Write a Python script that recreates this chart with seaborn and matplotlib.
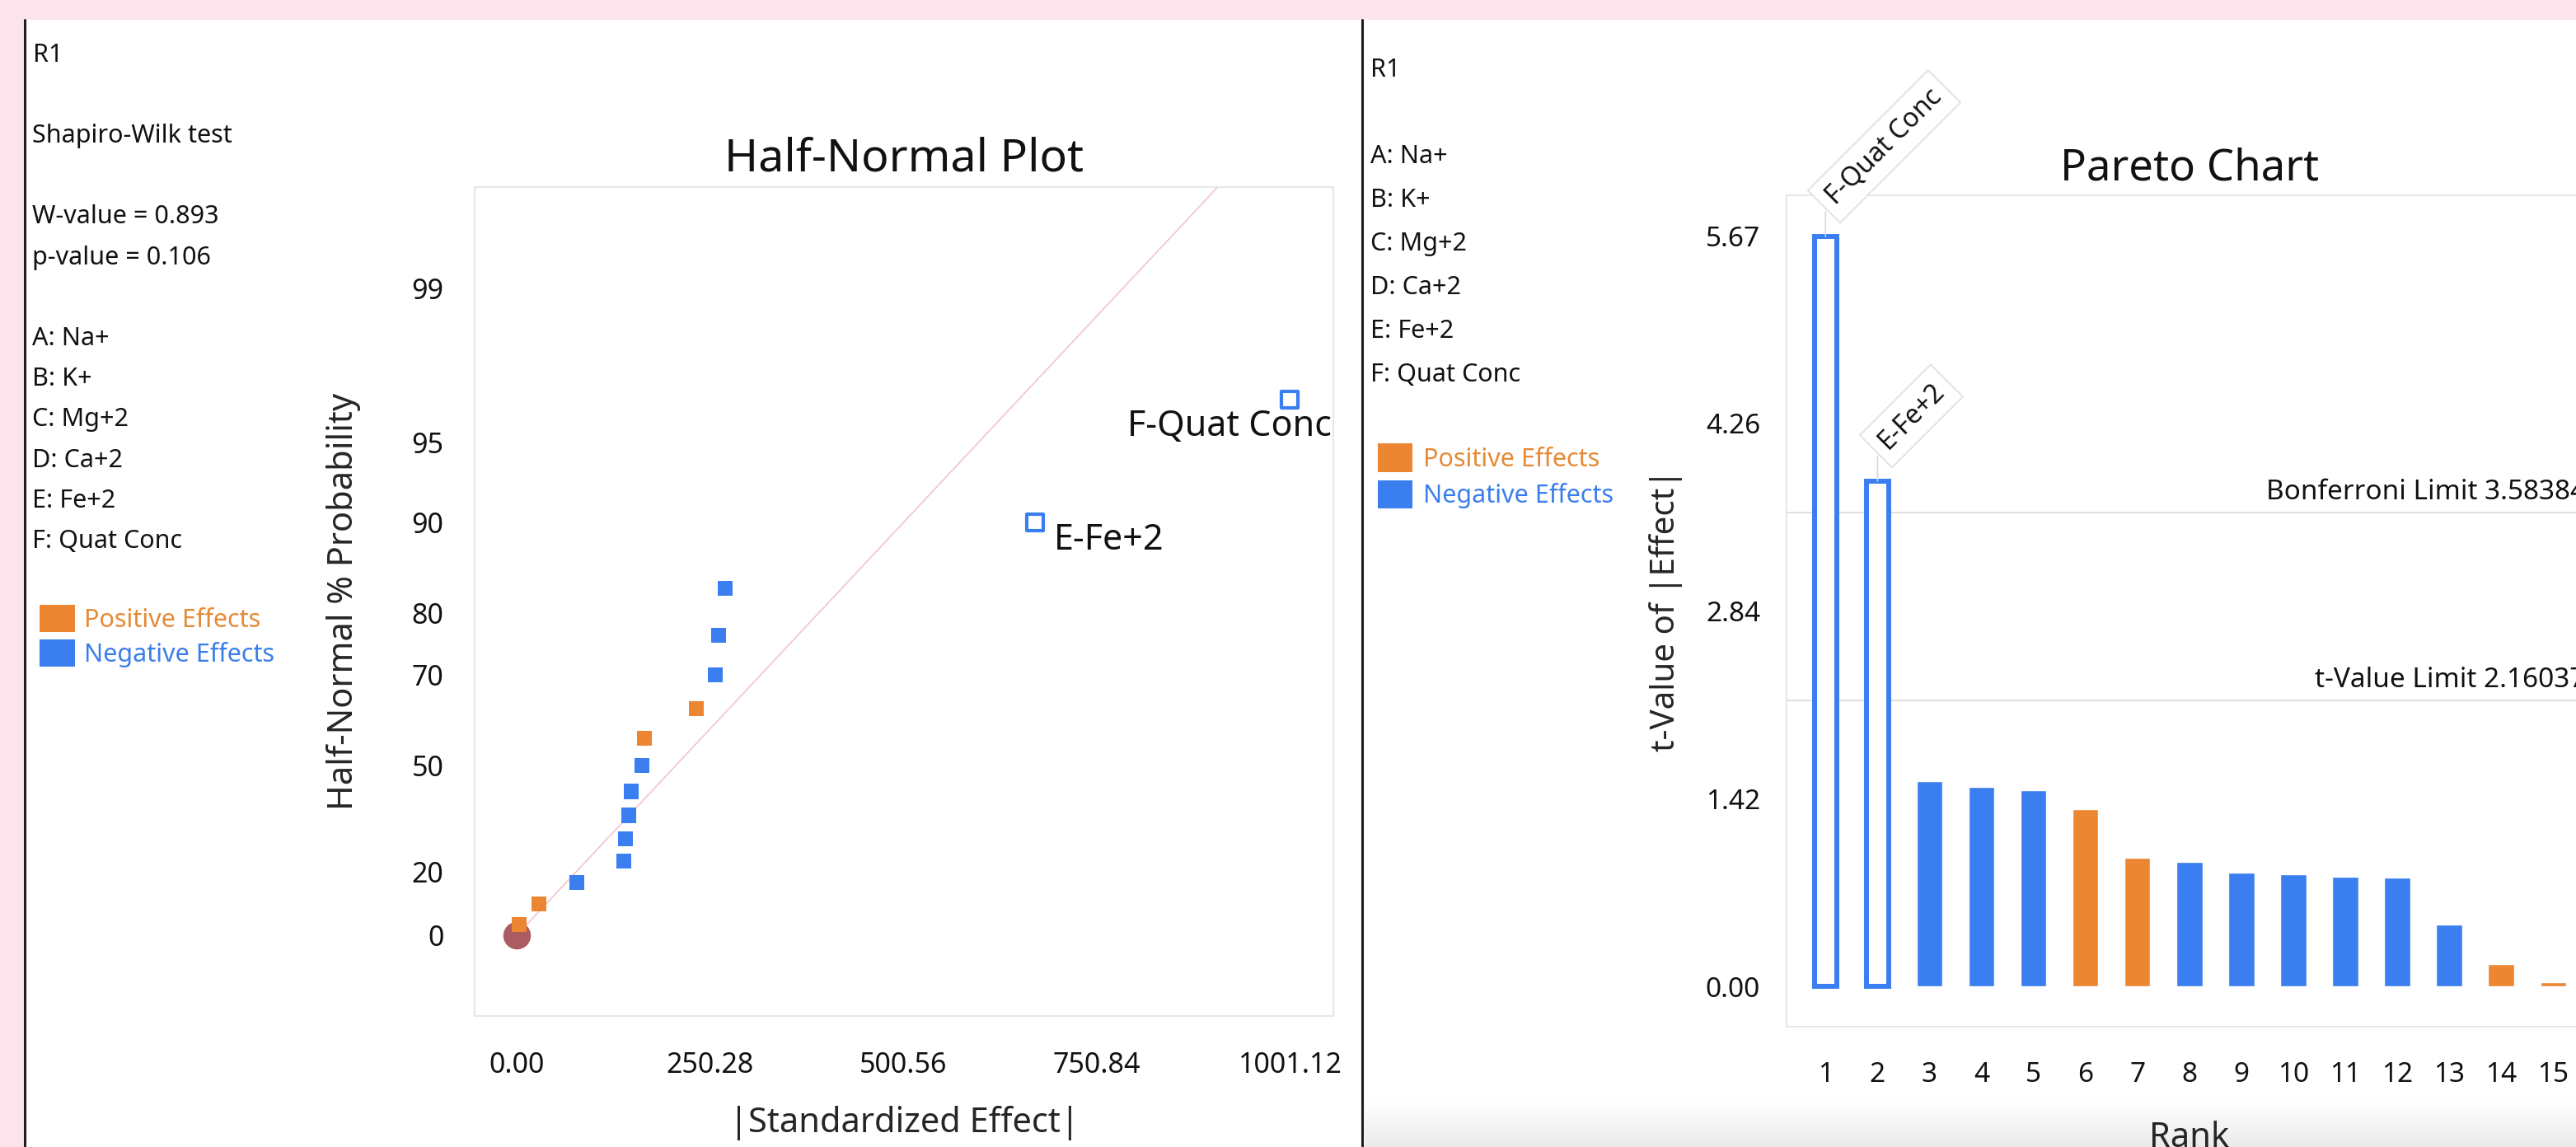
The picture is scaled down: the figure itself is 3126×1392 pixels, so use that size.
import math
from statistics import NormalDist

import numpy as np
import pandas as pd
import seaborn as sns
import matplotlib.pyplot as plt
from matplotlib.patches import Rectangle, Patch
from matplotlib.lines import Line2D
from matplotlib.colors import LinearSegmentedColormap
from matplotlib.ticker import FixedLocator

# ---- values ----
factor_names = ['A: Na+', 'B: K+', 'C: Mg+2', 'D: Ca+2', 'E: Fe+2', 'F: Quat Conc']
w_value = 0.893
p_value = 0.106

# half-normal plot (effects in ascending order)
hn_effect = [3.2, 28.8, 77.7, 138.5, 140.6, 144.8, 148.0, 161.9, 165.0, 232.0, 256.7, 261.0, 269.4, 671.0, 1000.5]
hn_prob = [3.3, 10.0, 16.7, 23.3, 30.0, 36.7, 43.3, 50.0, 56.7, 63.3, 70.0, 76.7, 83.3, 90.0, 96.7]
hn_sign = ['Positive', 'Positive', 'Negative', 'Negative', 'Negative', 'Negative', 'Negative', 'Negative',
           'Positive', 'Positive', 'Negative', 'Negative', 'Negative', 'Negative', 'Negative']
hn_term = ['', '', '', '', '', '', '', '', '', '', '', '', '', 'E-Fe+2', 'F-Quat Conc']
origin_effect = [0.0]
origin_prob = [0.0]
ref_line_effect = [0.0, 907.0]
ref_line_prob = [0.0, 99.71]
hn_xticks = [0.00, 250.28, 500.56, 750.84, 1001.12]
hn_yticks = [0, 20, 50, 70, 80, 90, 95, 99]

# pareto chart
pareto_rank = ['1', '2', '3', '4', '5', '6', '7', '8', '9', '10', '11', '12', '13', '14', '15']
pareto_t = [5.67, 3.82, 1.55, 1.51, 1.48, 1.34, 0.97, 0.94, 0.86, 0.85, 0.83, 0.82, 0.47, 0.17, 0.03]
pareto_sign = ['Negative', 'Negative', 'Negative', 'Negative', 'Negative', 'Positive', 'Positive', 'Negative',
               'Negative', 'Negative', 'Negative', 'Negative', 'Negative', 'Positive', 'Positive']
pareto_term = ['F-Quat Conc', 'E-Fe+2', '', '', '', '', '', '', '', '', '', '', '', '', '']
pareto_yticks = [0.00, 1.42, 2.84, 4.26, 5.67]
bonferroni_limit = 3.58384
t_value_limit = 2.16037

# ---- colours ----
PINK = '#FCE4EC'
ORANGE = '#EC8632'
BLUE = '#3A7EF0'
ORANGE_TXT = '#E58A35'
BLUE_TXT = '#3B7EEB'
CIRCLE = '#A8525A'
REF_LINE = '#F3C8CE'
FRAME = '#E3E3E3'
TICK = '#D8D8D8'
LIMIT = '#E6DDE1'
palette = {'Positive': ORANGE, 'Negative': BLUE}

sns.set_style('white')
plt.rcParams['font.family'] = ['Noto Sans', 'DejaVu Sans']
plt.rcParams['text.color'] = '#111111'
plt.rcParams['xtick.color'] = TICK
plt.rcParams['ytick.color'] = TICK
plt.rcParams['xtick.labelcolor'] = '#111111'
plt.rcParams['ytick.labelcolor'] = '#111111'

W, H = 3126, 1392
fig = plt.figure(figsize=(W / 100, H / 100), dpi=100, facecolor=PINK)


def fx(px):
    return px / W


def fy(py):
    return 1 - py / H


# white screenshot panels with dark left borders
fig.add_artist(Rectangle((fx(30), 0), fx(1653) - fx(30), fy(24), transform=fig.transFigure,
                         fc='white', ec='none', zorder=-10))
fig.add_artist(Rectangle((fx(1653), 0), 1 - fx(1653), fy(24), transform=fig.transFigure,
                         fc='white', ec='none', zorder=-10))
for xp in (30, 1653):
    fig.add_artist(Line2D([fx(xp), fx(xp)], [0, fy(24)], transform=fig.transFigure,
                          color='#1E1E1E', lw=2.2, zorder=-9))

# faint shadow at bottom of the right screenshot
ax_g = fig.add_axes([fx(1656), 0, 1 - fx(1656), (H - 1335) / H], zorder=-5)
ax_g.imshow(np.linspace(0, 1, 60).reshape(-1, 1), aspect='auto', extent=[0, 1, 0, 1],
            cmap=LinearSegmentedColormap.from_list('shade', ['#FFFFFF', '#EBEBEB']))
ax_g.axis('off')

# ---- side texts ----
TXT = 22
fig.text(fx(40), fy(67), 'R1', fontsize=TXT, fontweight='bold', va='center')
fig.text(fx(39), fy(165), 'Shapiro-Wilk test', fontsize=TXT, va='center')
fig.text(fx(39), fy(263), f'W-value = {w_value:.3f}', fontsize=TXT, va='center')
fig.text(fx(39), fy(313), f'p-value = {p_value:.3f}', fontsize=TXT, va='center')
for i, name in enumerate(factor_names):
    fig.text(fx(39), fy(411 + 49.2 * i), name, fontsize=TXT, va='center')
    fig.text(fx(1663), fy(190 + 53 * i), name, fontsize=TXT, va='center')
fig.text(fx(1663), fy(85), 'R1', fontsize=TXT, fontweight='bold', va='center')

legend_handles = [Patch(fc=ORANGE, ec='none'), Patch(fc=BLUE, ec='none')]
legend_labels = ['Positive Effects', 'Negative Effects']
fig.legend(legend_handles, legend_labels, labelcolor=[ORANGE_TXT, BLUE_TXT], loc='upper left',
           bbox_to_anchor=(fx(48), fy(734)), frameon=False, borderpad=0, borderaxespad=0,
           handlelength=1.4, handleheight=1.27, handletextpad=0.38, labelspacing=0.29, fontsize=TXT)
fig.legend(legend_handles, legend_labels, labelcolor=[ORANGE_TXT, BLUE_TXT], loc='upper left',
           bbox_to_anchor=(fx(1672), fy(538)), frameon=False, borderpad=0, borderaxespad=0,
           handlelength=1.37, handleheight=1.37, handletextpad=0.42, labelspacing=0.33, fontsize=TXT)

# ---- half-normal plot ----
ax1 = fig.add_axes([fx(576), fy(1233), (1618 - 576) / W, (1233 - 227) / H])
hn = pd.DataFrame({'effect': hn_effect, 'prob': hn_prob, 'sign': hn_sign, 'term': hn_term})
filled = hn[hn['term'] == '']
named = hn[hn['term'] != '']

sns.lineplot(x=ref_line_effect, y=ref_line_prob, color=REF_LINE, lw=1.3, ax=ax1, zorder=1)
sns.scatterplot(x=origin_effect, y=origin_prob, s=580, color=CIRCLE, alpha=0.95, linewidth=0,
                ax=ax1, zorder=2)
sns.scatterplot(data=filled, x='effect', y='prob', hue='sign', palette=palette, marker='s', s=170,
                linewidth=0, legend=False, ax=ax1, zorder=3)
sns.scatterplot(data=named, x='effect', y='prob', marker='s', s=225, color='white', edgecolor=BLUE,
                linewidth=3, ax=ax1, zorder=3)

nd = NormalDist()


def pct_to_z(p):
    p = np.clip(np.asarray(p, dtype=float), -99.9999, 99.9999)
    return np.vectorize(lambda v: nd.inv_cdf(0.5 + v / 200.0), otypes=[float])(p)


def z_to_pct(z):
    z = np.asarray(z, dtype=float)
    return np.vectorize(lambda v: 100.0 * math.erf(v / math.sqrt(2)), otypes=[float])(z)


ax1.set_yscale('function', functions=(pct_to_z, z_to_pct))
ax1.set_xlim(-54.4, 1056.6)
ax1.set_ylim(-25.2, 99.71)
ax1.set_xticks(hn_xticks, [f'{v:.2f}' for v in hn_xticks])
ax1.set_yticks(hn_yticks, [str(v) for v in hn_yticks])
ax1.yaxis.set_minor_locator(FixedLocator([v for v in range(1, 99) if v not in hn_yticks]))
ax1.tick_params(axis='x', which='major', length=18, width=1.2, pad=13, labelsize=24.5)
ax1.tick_params(axis='y', which='major', length=16, width=1.2, pad=11, labelsize=24.5)
ax1.tick_params(axis='y', which='minor', length=10, width=0.8, color='#E6E6E6')
for sp in ax1.spines.values():
    sp.set_color(FRAME)
    sp.set_linewidth(1.2)
ax1.set_title('Half-Normal Plot', fontsize=40, pad=14)
ax1.set_xlabel('|Standardized Effect|', fontsize=30)
ax1.set_ylabel('Half-Normal % Probability', fontsize=30)
ax1.xaxis.set_label_coords(0.5, -0.108)
ax1.yaxis.set_label_coords(-0.132, 0.5)

label_offsets = {'E-Fe+2': (23, -22, 'left'), 'F-Quat Conc': (50, -33, 'right')}
for _, row in named.iterrows():
    dx, dy, ha = label_offsets[row['term']]
    ax1.annotate(row['term'], xy=(row['effect'], row['prob']), xytext=(dx, dy),
                 textcoords='offset pixels', ha=ha, va='center', fontsize=31)

# ---- pareto chart ----
ax2 = fig.add_axes([fx(2168), fy(1246), 977.6 / W, (1246 - 236.5) / H])
pareto = pd.DataFrame({'rank': pareto_rank, 'tval': pareto_t, 'sign': pareto_sign, 'term': pareto_term})
sns.barplot(data=pareto, x='rank', y='tval', hue='sign', palette=palette, order=pareto_rank,
            width=0.5, dodge=False, saturation=1, legend=False, ax=ax2, zorder=3)

for bar in ax2.patches:
    idx = int(round(bar.get_x() + bar.get_width() / 2))
    if pareto_term[idx]:
        cx = bar.get_x() + bar.get_width() / 2
        bar.set_width(0.42)
        bar.set_x(cx - 0.21)
        bar.set_facecolor('white')
        bar.set_edgecolor(BLUE)
        bar.set_linewidth(4.3)

ax2.set_xlim(-0.75, 14.75)
ax2.set_ylim(-0.305, 5.984)
ax2.set_yticks(pareto_yticks, [f'{v:.2f}' for v in pareto_yticks])

for val, name in ((bonferroni_limit, 'Bonferroni Limit'), (t_value_limit, 't-Value Limit')):
    ax2.axhline(val, color=LIMIT, lw=1.4, zorder=1)
    ax2.annotate(f'{name} {val:.5f}', xy=(0.992, val), xycoords=('axes fraction', 'data'),
                 xytext=(0, 8), textcoords='offset pixels', ha='right', va='bottom', fontsize=24,
                 annotation_clip=False)

for i, term in enumerate(pareto_term):
    if not term:
        continue
    ax2.annotate('', xy=(i, pareto_t[i]), xytext=(0, 30), textcoords='offset pixels',
                 arrowprops=dict(arrowstyle='-', color='#D6D6D6', lw=1.2, shrinkA=0, shrinkB=0),
                 annotation_clip=False)
    ax2.annotate(term, xy=(i, pareto_t[i]), xytext=(6, 44), textcoords='offset pixels',
                 rotation=45, rotation_mode='anchor', ha='left', va='center', fontsize=23,
                 bbox=dict(boxstyle='square,pad=0.35', fc='white', ec='#DEDEDE', lw=1.2),
                 annotation_clip=False, zorder=5)

ax2.tick_params(axis='x', which='major', length=17, width=1.2, pad=13, labelsize=24)
ax2.tick_params(axis='y', which='major', length=16, width=1.2, pad=7, labelsize=24)
for sp in ax2.spines.values():
    sp.set_color(FRAME)
    sp.set_linewidth(1.2)
ax2.set_title('Pareto Chart', fontsize=38, pad=13)
ax2.set_xlabel('Rank', fontsize=30)
ax2.set_ylabel('t-Value of |Effect|', fontsize=29)
ax2.xaxis.set_label_coords(0.5, -0.113)
ax2.yaxis.set_label_coords(-0.129, 0.5)

fig.savefig('out.png', dpi=100, facecolor=PINK)
